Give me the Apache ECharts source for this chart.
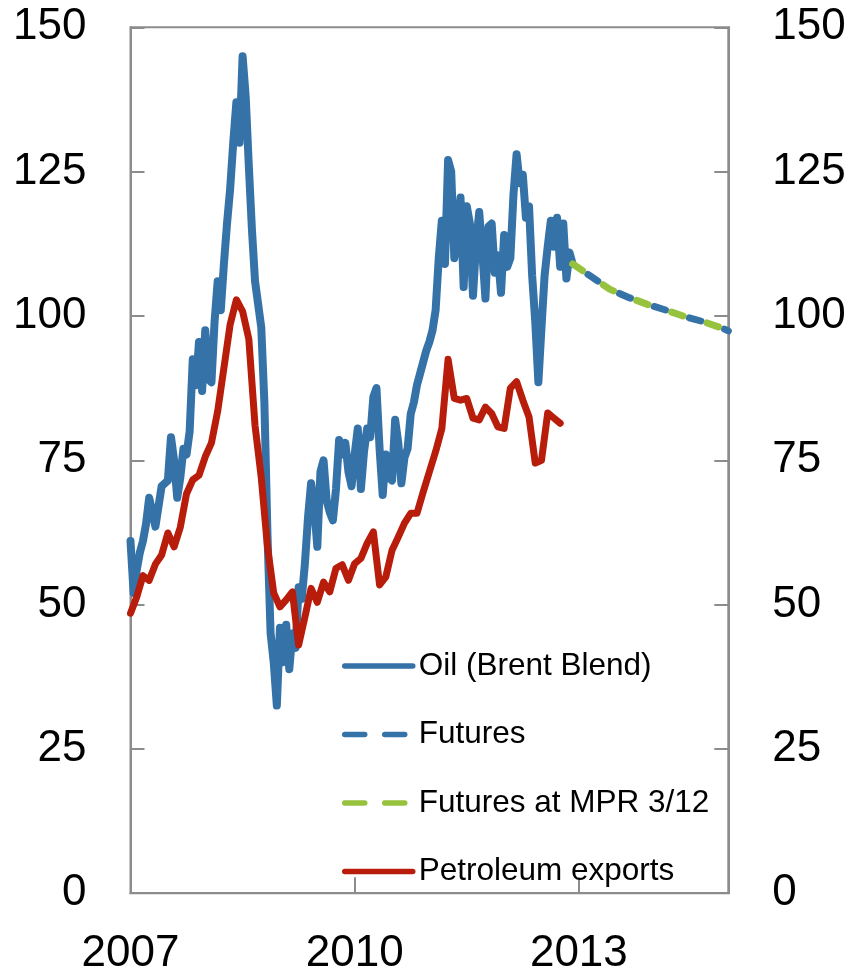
<!DOCTYPE html>
<html>
<head>
<meta charset="utf-8">
<script src="https://cdn.jsdelivr.net/npm/echarts@6/dist/echarts.min.js"></script>
<style>
  html, body { margin: 0; padding: 0; background: #fff; }
  #main { width: 852px; height: 973px; }
</style>
</head>
<body>
<div id="main"></div>
<script>
// Brent Blend, USD per barrel, two readings a month (1st and 16th) from Jan 2007
const brent2007 = [61, 52, 56, 59, 61, 64, 68.5, 66, 63.5, 67, 70.5, 71,
  71.5, 79, 75, 68.5, 72, 77, 76, 80, 92.5, 88, 95.5, 87];
const brent2008 = [97.5, 89, 88.5, 99, 106, 101, 109, 116, 122, 130, 137, 130,
  145, 138, 126, 115, 106, 102, 98, 85, 62, 45, 40, 32.5];
const brent2009 = [46, 40, 46.5, 38.8, 45, 42.5, 53, 51, 57, 65, 71, 67,
  60, 73, 75, 68, 66, 64.6, 70, 78.5, 76, 78, 73, 70.5];
const brent2010 = [76, 80.5, 70, 76.5, 80.5, 79, 86, 87.5, 77, 69, 76, 72,
  71.5, 82, 78, 71, 75.5, 77, 83, 85, 88, 90, 92, 94];
const brent2011 = [95.5, 97.5, 101, 110, 116.5, 109, 127, 125, 110, 114, 120.5, 105,
  119, 116, 103.5, 112.5, 118, 111, 103, 115.5, 116, 107.5, 110.5, 104];
const brent2012 = [114, 108.5, 110, 121, 128, 123, 124.5, 117, 119, 107, 99, 88.5,
  98, 107, 112, 116.5, 112, 117, 108.5, 116, 106.5, 111, 109];

// Futures curves (quarterly points)
const futuresDates = ['2012-12', '2013-03', '2013-06', '2013-09', '2013-12',
  '2014-03', '2014-06', '2014-09', '2014-12', '2015-01'];
const futuresNow = [109, 106.8, 104.6, 103.2, 102.0, 101.0, 99.9, 99.0, 97.9, 97.4];
const futuresMpr = [109, 106.8, 104.6, 103.2, 102.0, 101.0, 99.9, 99.0, 97.9, 97.4];

// Petroleum exports, monthly from Jan 2007
const exports2007 = [48.5, 51.3, 55, 54.2, 57, 58.6, 62.4, 60, 63.4, 69.2, 71.6, 72.4];
const exports2008 = [75.6, 78, 83.5, 91, 98.5, 102.8, 100.8, 96, 81, 72, 60, 52];
const exports2009 = [49.6, 50.8, 52.2, 43, 47.8, 52.8, 50.4, 53.9, 52.2, 56.3, 56.9, 54.2];
const exports2010 = [57.1, 58, 60.6, 62.6, 53.4, 54.8, 59.4, 61.7, 64.1, 65.8, 65.8, 69.5];
const exports2011 = [73, 76.5, 80.5, 92.5, 85.7, 85.4, 85.7, 82.3, 82, 84.2, 83.1, 80.8];
const exports2012 = [80.5, 87.5, 88.6, 85.4, 82.5, 74.5, 75, 83.2, 82.3, 81.4];

const seriesNames = ['Oil (Brent Blend)', 'Futures', 'Futures at MPR 3/12', 'Petroleum exports'];

const BLUE = '#3572a8';
const GREEN = '#97c23d';
const RED = '#b81c0a';
const GREY = '#8c8c8c';
const FONT = '"Liberation Sans", Arial, sans-serif';

function semiMonthly(year, values) {
  return values.map((v, i) => [year + i / 24, v]);
}
function monthly(year, values) {
  return values.map((v, i) => [year + i / 12, v]);
}
function byMonth(dates, values) {
  return dates.map((d, i) => {
    const [y, m] = d.split('-').map(Number);
    return [y + (m - 1) / 12, values[i]];
  });
}

const brent = [].concat(
  semiMonthly(2007, brent2007), semiMonthly(2008, brent2008), semiMonthly(2009, brent2009),
  semiMonthly(2010, brent2010), semiMonthly(2011, brent2011), semiMonthly(2012, brent2012));
const petroleum = [].concat(
  monthly(2007, exports2007), monthly(2008, exports2008), monthly(2009, exports2009),
  monthly(2010, exports2010), monthly(2011, exports2011), monthly(2012, exports2012));

const yAxisBase = {
  type: 'value', min: 0, max: 150, interval: 25,
  axisLine: { show: true, lineStyle: { color: GREY, width: 2 } },
  axisTick: { show: true, inside: true, length: 14, lineStyle: { color: GREY, width: 2 } },
  splitLine: { show: false },
  axisLabel: { fontSize: 44, color: '#000', fontFamily: FONT, margin: 44 }
};

const option = {
  animation: false,
  backgroundColor: '#fff',
  grid: {
    left: 130.5, right: 123.7, top: 27.3, bottom: 79.8,
    show: true, borderColor: GREY, borderWidth: 2,
    outerBoundsMode: 'none'
  },
  xAxis: {
    type: 'value', min: 2007, max: 2015, interval: 3,
    axisLine: { show: true, lineStyle: { color: GREY, width: 2 } },
    axisTick: { show: true, inside: true, length: 16, lineStyle: { color: GREY, width: 2 } },
    splitLine: { show: false },
    axisLabel: {
      fontSize: 44, color: '#000', fontFamily: FONT, margin: 39, showMaxLabel: false,
      formatter: v => String(Math.round(v))
    }
  },
  yAxis: [
    Object.assign({}, yAxisBase, { position: 'left' }),
    Object.assign({}, yAxisBase, { position: 'right' })
  ],
  legend: {
    orient: 'vertical', left: 337, top: 645,
    itemWidth: 68, itemHeight: 14, itemGap: 36.5,
    textStyle: { fontSize: 31.5, lineHeight: 30, color: '#000', fontFamily: FONT, padding: [0, 0, 0, 1] },
    itemStyle: { opacity: 0 },
    lineStyle: { width: 5.5, cap: 'round' },
    data: [
      { name: seriesNames[0] },
      { name: seriesNames[1], lineStyle: { type: [20, 20], dashOffset: 0 } },
      { name: seriesNames[2], lineStyle: { type: [20, 20], dashOffset: 0 } },
      { name: seriesNames[3] }
    ]
  },
  series: [
    {
      name: seriesNames[0], type: 'line', data: brent, symbol: 'none', silent: true,
      lineStyle: { color: BLUE, width: 8, cap: 'round', join: 'round' },
      itemStyle: { color: BLUE }
    },
    {
      name: seriesNames[1], type: 'line', data: byMonth(futuresDates, futuresNow), symbol: 'none', silent: true,
      lineStyle: { color: BLUE, width: 7, type: [12, 25], dashOffset: 18.5, cap: 'round' },
      itemStyle: { color: BLUE }
    },
    {
      name: seriesNames[2], type: 'line', data: byMonth(futuresDates, futuresMpr), symbol: 'none', silent: true,
      lineStyle: { color: GREEN, width: 7, type: [12, 25], dashOffset: 0, cap: 'round' },
      itemStyle: { color: GREEN }
    },
    {
      name: seriesNames[3], type: 'line', data: petroleum, symbol: 'none', silent: true,
      lineStyle: { color: RED, width: 7, cap: 'round', join: 'round' },
      itemStyle: { color: RED }
    }
  ]
};

const chart = echarts.init(document.getElementById('main'));
chart.setOption(option);
</script>
</body>
</html>
